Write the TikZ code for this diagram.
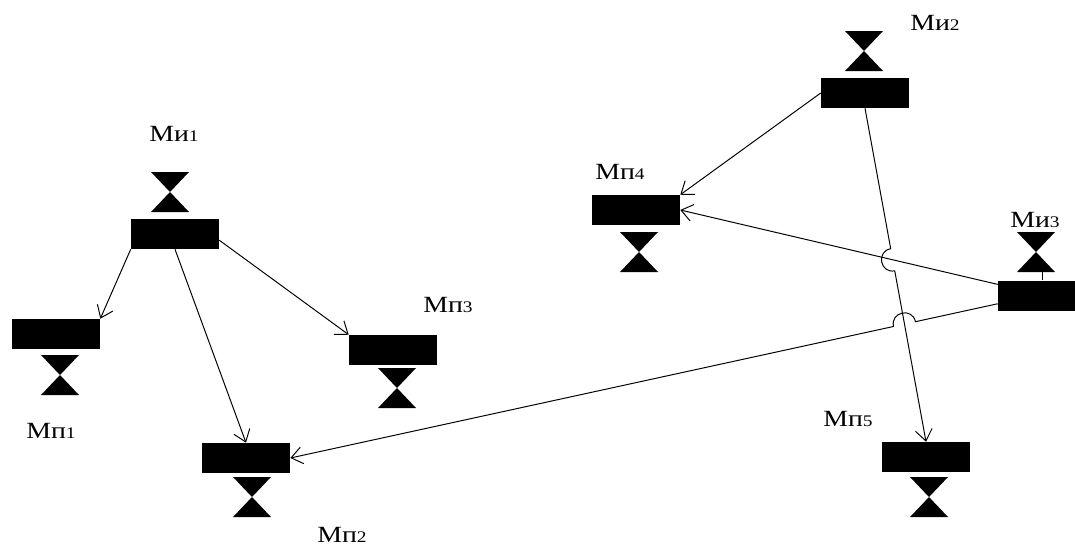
\documentclass[tikz,border=0pt]{standalone}
\usepackage{fontspec}
\newfontfamily\lblfont[FakeStretch=1.2]{Liberation Serif}
\usetikzlibrary{calc,arrows.meta,intersections}

\tikzset{
  blk/.style={fill=black, inner sep=0pt, minimum width=2.2cm, minimum height=0.75cm},
  lbl/.style={font=\lblfont\fontsize{16.5}{16.5}\selectfont, inner sep=0pt},
  arr/.style={-{Straight Barb[length=8pt,width=12pt]}, line width=0.7pt},
  bowtie/.pic={
    \fill (-19,-20) -- (19,-20) -- (0,0) -- cycle;
    \fill (0,0) -- (-19,20) -- (19,20) -- cycle;
  }
}
\newcommand{\nr}[1]{{\fontsize{11.5}{11.5}\selectfont #1}}

\begin{document}
\begin{tikzpicture}[x=0.025cm, y=-0.025cm]
    \useasboundingbox (0,0) rectangle (1075,548);
    % sources
    \node[blk] (mi1) at (175,234) {};
    \node[blk] (mi2) at (865,93) {};
    \node[blk, minimum width=1.925cm] (mi3) at (1036.5,295.5) {};
    % receivers
    \node[blk] (mp1) at (56,334) {};
    \node[blk] (mp2) at (246,458) {};
    \node[blk] (mp3) at (393,350) {};
    \node[blk] (mp4) at (636,210) {};
    \node[blk] (mp5) at (926,457) {};

    \pic at (170,192) {bowtie};
    \pic at (864,51) {bowtie};
    \pic at (1036,252) {bowtie};
    \pic at (60,375) {bowtie};
    \pic at (252,497) {bowtie};
    \pic at (397,388) {bowtie};
    \pic at (639,252) {bowtie};
    \pic at (929,497) {bowtie};
    \draw[line width=0.7pt] ($(mi3.north)+(5.5,0)$) -- ++(0,-9);

    \node[lbl] (lmi1) at (174,134) {Ми\nr{1}};
    \node[lbl] (lmi2) at (935,23) {Ми\nr{2}};
    \node[lbl] (lmi3) at (1035,220) {Ми\nr{3}};
    \node[lbl] (lmp1) at (51,431) {Мп\nr{1}};
    \node[lbl] (lmp2) at (342,535) {Мп\nr{2}};
    \node[lbl] (lmp3) at (448,305) {Мп\nr{3}};
    \node[lbl] (lmp4) at (620,172) {Мп\nr{4}};
    \node[lbl] (lmp5) at (848,419) {Мп\nr{5}};

    \draw[arr] (mi1.south west) -- (mp1.north east);
    \draw[arr] (mi1.south) -- (mp2.north);
    \draw[arr] (mi1.352) -- (mp3.north west);
    \draw[arr] (mi2.west) -- (mp4.north east);
    \draw[arr] (mi3.164) -- (mp4.east);

    % line hops
    \path[name path=l25] (mi2.south) -- (mp5.north);
    \path[name path=l34] (mi3.164) -- (mp4.east);
    \path[name path=l32] (mi3.192) -- (mp2.east);
    \path[name intersections={of=l25 and l34, by=h1}];
    \path[name intersections={of=l25 and l32, by=h2}];
    \coordinate (h1a) at ($(h1)!8pt!(mi2.south)$);
    \coordinate (h1b) at ($(h1)!8pt!(mp5.north)$);
    \coordinate (h2a) at ($(h2)!8pt!(mi3.192)$);
    \coordinate (h2b) at ($(h2)!8pt!(mp2.east)$);
    \draw[arr] (mi2.south) -- (h1a) .. controls ($(h1a)!1.333!-90:(h1)$) and ($(h1b)!1.333!90:(h1)$) .. (h1b) -- (mp5.north);
    \draw[arr] (mi3.192) -- (h2a) .. controls ($(h2a)!1.333!-90:(h2)$) and ($(h2b)!1.333!90:(h2)$) .. (h2b) -- (mp2.east);
\end{tikzpicture}
\end{document}
